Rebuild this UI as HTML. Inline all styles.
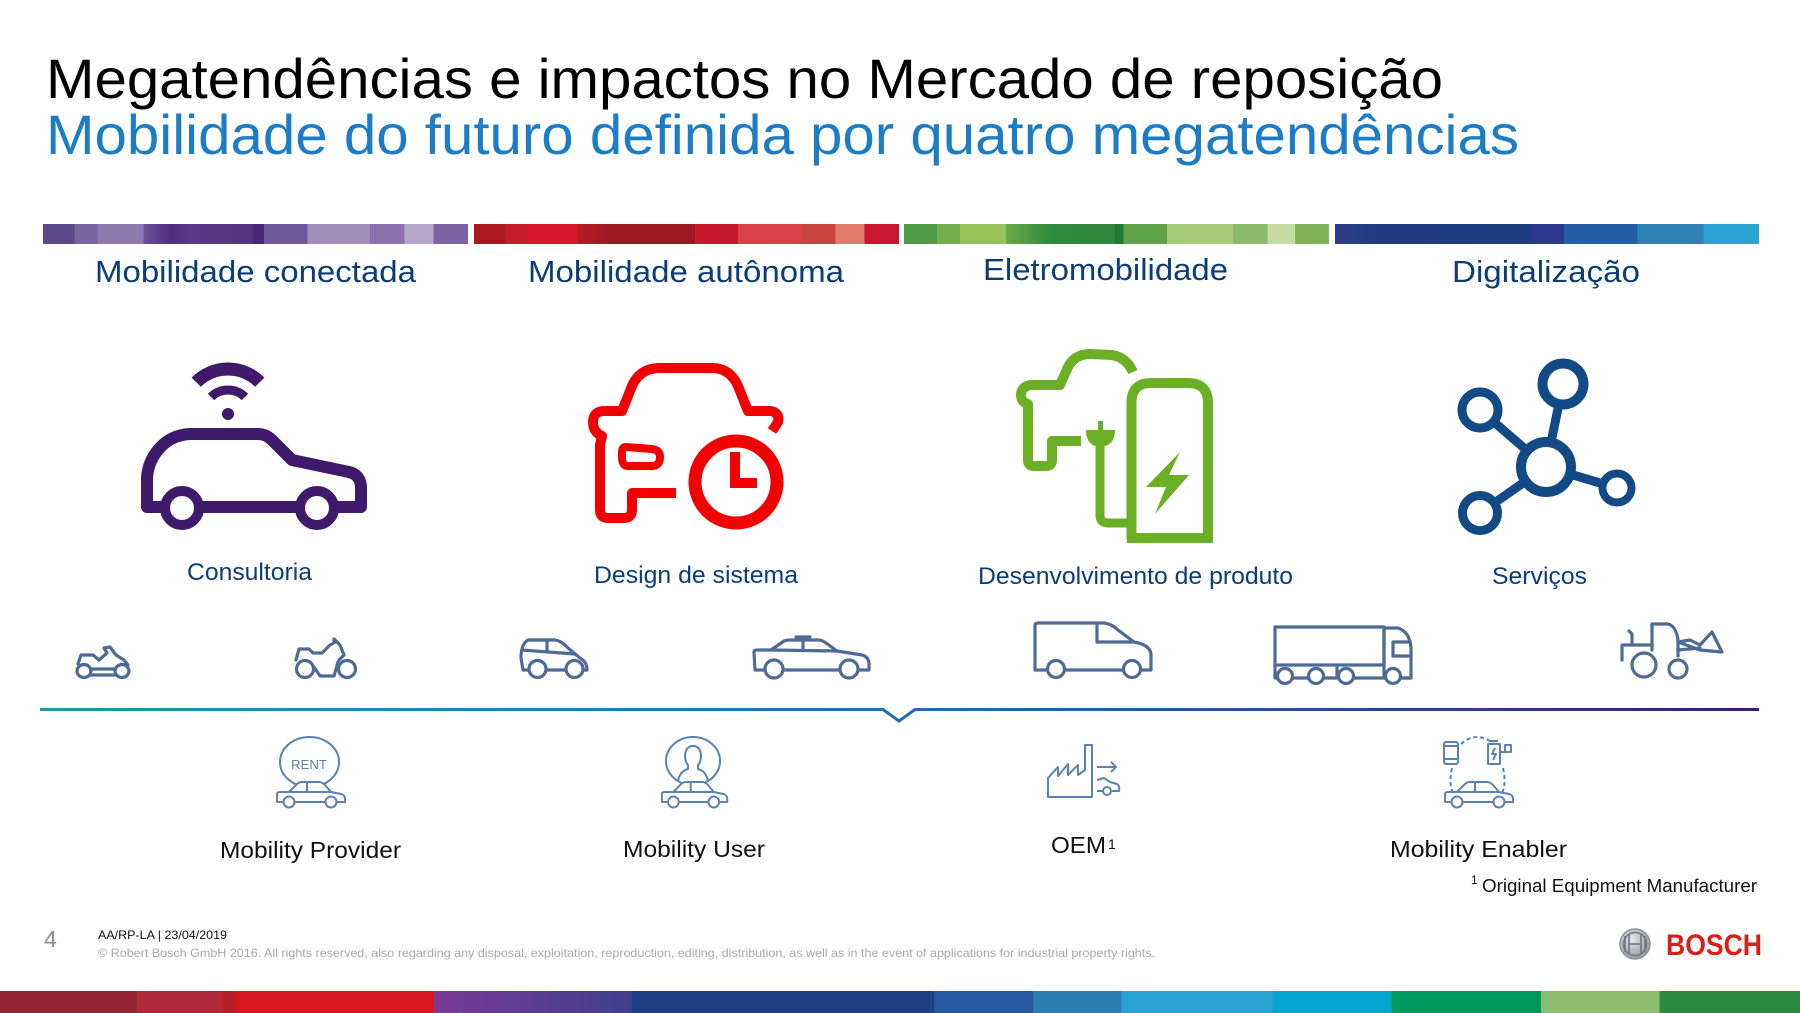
<!DOCTYPE html>
<html>
<head>
<meta charset="utf-8">
<style>
  html,body{margin:0;padding:0;background:#fff;}
  svg{display:block;}
  text{font-family:"Liberation Sans",sans-serif;}
</style>
</head>
<body>
<svg width="1800" height="1013" viewBox="0 0 1800 1013" xmlns="http://www.w3.org/2000/svg">
<defs>
  <linearGradient id="b1" x1="0" x2="1" y1="0" y2="0">
    <stop offset="0" stop-color="#5d4889"/><stop offset="0.074" stop-color="#5d4889"/>
    <stop offset="0.074" stop-color="#7a64a0"/><stop offset="0.128" stop-color="#7a64a0"/>
    <stop offset="0.128" stop-color="#8e79ad"/><stop offset="0.236" stop-color="#8e79ad"/>
    <stop offset="0.236" stop-color="#6c519a"/><stop offset="0.30" stop-color="#4f2e80"/>
    <stop offset="0.345" stop-color="#5a3a86"/><stop offset="0.493" stop-color="#54337e"/>
    <stop offset="0.493" stop-color="#4a2878"/><stop offset="0.52" stop-color="#4a2878"/>
    <stop offset="0.52" stop-color="#6f579b"/><stop offset="0.622" stop-color="#6f579b"/>
    <stop offset="0.622" stop-color="#a18dbb"/><stop offset="0.77" stop-color="#a18dbb"/>
    <stop offset="0.77" stop-color="#8a73ad"/><stop offset="0.851" stop-color="#8a73ad"/>
    <stop offset="0.851" stop-color="#b6a7cf"/><stop offset="0.919" stop-color="#b6a7cf"/>
    <stop offset="0.919" stop-color="#7d64a3"/><stop offset="1" stop-color="#7d64a3"/>
  </linearGradient>
  <linearGradient id="b2" x1="0" x2="1" y1="0" y2="0">
    <stop offset="0" stop-color="#ab1820"/><stop offset="0.073" stop-color="#ab1820"/>
    <stop offset="0.073" stop-color="#c41c29"/><stop offset="0.127" stop-color="#c41c29"/>
    <stop offset="0.127" stop-color="#d6172c"/><stop offset="0.242" stop-color="#d6172c"/>
    <stop offset="0.242" stop-color="#b91a25"/><stop offset="0.32" stop-color="#9e1a21"/>
    <stop offset="0.52" stop-color="#9e1a21"/>
    <stop offset="0.52" stop-color="#c8192c"/><stop offset="0.621" stop-color="#c8192c"/>
    <stop offset="0.621" stop-color="#da4048"/><stop offset="0.77" stop-color="#da4048"/>
    <stop offset="0.77" stop-color="#c9453e"/><stop offset="0.851" stop-color="#c9453e"/>
    <stop offset="0.851" stop-color="#e17a69"/><stop offset="0.919" stop-color="#e17a69"/>
    <stop offset="0.919" stop-color="#c9182f"/><stop offset="1" stop-color="#c9182f"/>
  </linearGradient>
  <linearGradient id="b3" x1="0" x2="1" y1="0" y2="0">
    <stop offset="0" stop-color="#4f9a45"/><stop offset="0.078" stop-color="#4f9a45"/>
    <stop offset="0.078" stop-color="#72ac4b"/><stop offset="0.132" stop-color="#72ac4b"/>
    <stop offset="0.132" stop-color="#97c057"/><stop offset="0.24" stop-color="#97c057"/>
    <stop offset="0.24" stop-color="#6aaa49"/><stop offset="0.349" stop-color="#2f8a3b"/>
    <stop offset="0.496" stop-color="#2f883a"/>
    <stop offset="0.496" stop-color="#1f7a30"/><stop offset="0.517" stop-color="#1f7a30"/>
    <stop offset="0.517" stop-color="#5ea34a"/><stop offset="0.619" stop-color="#5ea34a"/>
    <stop offset="0.619" stop-color="#a8cb79"/><stop offset="0.774" stop-color="#a8cb79"/>
    <stop offset="0.774" stop-color="#8dbb6e"/><stop offset="0.855" stop-color="#8dbb6e"/>
    <stop offset="0.855" stop-color="#c4dca2"/><stop offset="0.92" stop-color="#c4dca2"/>
    <stop offset="0.92" stop-color="#7fb456"/><stop offset="1" stop-color="#7fb456"/>
  </linearGradient>
  <linearGradient id="b4" x1="0" x2="1" y1="0" y2="0">
    <stop offset="0" stop-color="#2d3e8a"/><stop offset="0.097" stop-color="#1f3c82"/>
    <stop offset="0.463" stop-color="#1e3c80"/>
    <stop offset="0.463" stop-color="#2c388a"/><stop offset="0.54" stop-color="#2c388a"/>
    <stop offset="0.54" stop-color="#245fa4"/><stop offset="0.713" stop-color="#245fa4"/>
    <stop offset="0.713" stop-color="#2f80b7"/><stop offset="0.869" stop-color="#2f80b7"/>
    <stop offset="0.869" stop-color="#2aa4d0"/><stop offset="1" stop-color="#2aa4d0"/>
  </linearGradient>
  <linearGradient id="line" gradientUnits="userSpaceOnUse" x1="40" y1="0" x2="1759" y2="0">
    <stop offset="0" stop-color="#1a9ca6"/>
    <stop offset="0.45" stop-color="#1f72b8"/>
    <stop offset="0.6" stop-color="#2060ab"/>
    <stop offset="0.82" stop-color="#2d3f8c"/>
    <stop offset="1" stop-color="#3b1d6c"/>
  </linearGradient>
  <linearGradient id="foot" gradientUnits="userSpaceOnUse" x1="0" y1="0" x2="1800" y2="0">
    <stop offset="0" stop-color="#952235"/><stop offset="0.076" stop-color="#952235"/>
    <stop offset="0.076" stop-color="#b0293a"/><stop offset="0.123" stop-color="#b0293a"/>
    <stop offset="0.123" stop-color="#b61f25"/><stop offset="0.131" stop-color="#b61f25"/>
    <stop offset="0.131" stop-color="#d7181f"/><stop offset="0.241" stop-color="#d7181f"/>
    <stop offset="0.241" stop-color="#7a3a96"/><stop offset="0.351" stop-color="#3f3f8f"/>
    <stop offset="0.351" stop-color="#1e3f85"/><stop offset="0.519" stop-color="#1d3f84"/>
    <stop offset="0.519" stop-color="#2b3a89"/><stop offset="0.519" stop-color="#2b3a89"/>
    <stop offset="0.519" stop-color="#2459a0"/><stop offset="0.574" stop-color="#2459a0"/>
    <stop offset="0.574" stop-color="#2d7db5"/><stop offset="0.623" stop-color="#2d7db5"/>
    <stop offset="0.623" stop-color="#28a3cf"/><stop offset="0.707" stop-color="#28a3cf"/>
    <stop offset="0.707" stop-color="#04a6d0"/><stop offset="0.773" stop-color="#04a6d0"/>
    <stop offset="0.773" stop-color="#009a5f"/><stop offset="0.856" stop-color="#009a5f"/>
    <stop offset="0.856" stop-color="#8cbd6e"/><stop offset="0.922" stop-color="#8cbd6e"/>
    <stop offset="0.922" stop-color="#2a8a3f"/><stop offset="1" stop-color="#2a8a3f"/>
  </linearGradient>
  <radialGradient id="logo" cx="0.4" cy="0.35" r="0.7">
    <stop offset="0" stop-color="#e8eaec"/><stop offset="1" stop-color="#8d949b"/>
  </radialGradient>
</defs>

<rect width="1800" height="1013" fill="#fff"/>

<!-- Titles -->
<text x="46" y="98" font-size="56" fill="#000" textLength="1397" lengthAdjust="spacingAndGlyphs">Megatendências e impactos no Mercado de reposição</text>
<text x="46" y="154" font-size="56" fill="#1c7cc6" textLength="1473" lengthAdjust="spacingAndGlyphs">Mobilidade do futuro definida por quatro megatendências</text>

<!-- Colored bars -->
<rect x="43" y="224" width="425" height="20" fill="url(#b1)"/>
<rect x="474" y="224" width="425" height="20" fill="url(#b2)"/>
<rect x="904" y="224" width="425" height="20" fill="url(#b3)"/>
<rect x="1335" y="224" width="424" height="20" fill="url(#b4)"/>

<!-- Category labels -->
<g fill="#0c3d77" font-size="31" text-anchor="middle">
  <text x="255.5" y="282" textLength="321" lengthAdjust="spacingAndGlyphs">Mobilidade conectada</text>
  <text x="686" y="282" textLength="316" lengthAdjust="spacingAndGlyphs">Mobilidade autônoma</text>
  <text x="1105.5" y="280" textLength="245" lengthAdjust="spacingAndGlyphs">Eletromobilidade</text>
  <text x="1546" y="282" textLength="188" lengthAdjust="spacingAndGlyphs">Digitalização</text>
</g>

<!-- Purple connected car -->
<g stroke="#3f1a6a" fill="none">
  <path d="M 211 397 A 24 24 0 0 1 245 397" stroke-width="9"/>
  <path d="M 196.2 382.2 A 45 45 0 0 1 259.8 382.2" stroke-width="13"/>
  <path d="M 147 507 L 147 478 Q 148 462 158 450 Q 170 435 190 434 L 258 434 Q 266 434 272 440 L 292 460 L 349 472 Q 361 475 361 488 L 361 507 Z" stroke-width="12" stroke-linejoin="round"/>
  <circle cx="182" cy="508" r="17" stroke-width="10" fill="#fff"/>
  <circle cx="317" cy="508" r="17" stroke-width="10" fill="#fff"/>
</g>
<circle cx="228" cy="414" r="6" fill="#3f1a6a"/>

<!-- Red car with clock -->
<g stroke="#f20000" fill="none" stroke-linejoin="round">
  <path d="M 772 431 L 778 422 Q 780 412 770 411 L 748 411 L 738 386 Q 730 368 712 368 L 660 368 Q 640 368 632 386 L 622 411 L 603 411 Q 593 412 593 422 Q 593 432 602 436 L 600 445 L 600 510 Q 600 518 608 518 L 624 518 Q 632 518 632 510 L 632 493 L 676 493" stroke-width="10"/>
  <path d="M 626 447 L 652 449 Q 660 450 660 457 Q 660 466 652 466 L 628 466 Q 622 466 622 457 L 622 452 Q 622 447 626 447 Z" stroke-width="8"/>
  <circle cx="736" cy="482" r="41" stroke-width="13" fill="#fff"/>
  <path d="M 735 452 L 735 483 L 757 483" stroke-width="10" stroke-linejoin="miter"/>
</g>

<!-- Green e-mobility -->
<g stroke="#6bb024" fill="none" stroke-linejoin="round">
  <path d="M 1133 372 Q 1126 357 1112 355 L 1090 354 Q 1075 354 1068 367 L 1060 385 L 1030 385 Q 1021 387 1021 395 Q 1021 402 1028 404 L 1028 460 Q 1028 466 1034 466 L 1046 466 Q 1052 466 1052 460 L 1052 441 L 1081 441" stroke-width="10"/>
  <path d="M 1131.5 538 L 1131.5 403 Q 1131.5 383 1151 383 L 1188 383 Q 1208 383 1208 403 L 1208 538 Z" stroke-width="10"/>
  <path d="M 1100 440 L 1100 515 Q 1100 523 1108 523 L 1127 523" stroke-width="9"/>
</g>
<g fill="#6bb024">
  <rect x="1127" y="533" width="86" height="10"/>
  <path d="M 1086 430 L 1115 430 Q 1115 446 1100 447 Q 1086 446 1086 430 Z"/>
  <rect x="1098" y="421" width="5" height="10"/>
  <path d="M 1180 452 L 1146 487 L 1166 487 L 1155 514 L 1189 475 L 1169 475 Z"/>
</g>

<!-- Network icon -->
<g stroke="#124a86" fill="none">
  <path d="M 1546 467 L 1563 384 M 1546 467 L 1480 410 M 1546 467 L 1480 513 M 1546 467 L 1617 488" stroke-width="9"/>
  <circle cx="1563" cy="384" r="20.5" stroke-width="10" fill="#fff"/>
  <circle cx="1480" cy="410" r="18" stroke-width="9" fill="#fff"/>
  <circle cx="1480" cy="513" r="17.5" stroke-width="9" fill="#fff"/>
  <circle cx="1617" cy="488" r="14.5" stroke-width="8" fill="#fff"/>
  <circle cx="1546" cy="467" r="25" stroke-width="10" fill="#fff"/>
</g>

<!-- Icon labels -->
<g fill="#0c3d77" font-size="24">
  <text x="187" y="580" textLength="125" lengthAdjust="spacingAndGlyphs">Consultoria</text>
  <text x="594" y="583" textLength="204" lengthAdjust="spacingAndGlyphs">Design de sistema</text>
  <text x="978" y="584" textLength="315" lengthAdjust="spacingAndGlyphs">Desenvolvimento de produto</text>
  <text x="1492" y="584" textLength="95" lengthAdjust="spacingAndGlyphs">Serviços</text>
</g>

<!-- Vehicle row -->
<g stroke="#4e6b95" stroke-width="3.2" fill="none" stroke-linejoin="round" stroke-linecap="round">
  <!-- ATV -->
  <path d="M 78 664 L 81 655 L 93 655 L 99 660 L 107 653 L 104 648 L 110 647 L 116 655 L 124 660 L 128 665"/>
  <path d="M 91 669 L 115 669 M 91 675 L 115 675"/>
  <ellipse cx="84" cy="671" rx="7" ry="6.5" fill="#fff"/>
  <ellipse cx="122" cy="671" rx="7" ry="6.5" fill="#fff"/>
  <!-- Motorbike -->
  <path d="M 296 660 L 299 649 L 309 649 L 313 653 L 322 653 L 330 645 L 334 643 L 334 639 L 340 645 L 344 655 L 339 660"/>
  <path d="M 314 667 L 320 676 L 334 676 L 338 662"/>
  <circle cx="305" cy="669" r="8.5" fill="#fff"/>
  <circle cx="347" cy="669" r="8.5" fill="#fff"/>
  <!-- Small car -->
  <path d="M 523 670 L 521 658 Q 521 644 528 640 L 555 640 Q 562 641 568 648 L 580 658 Q 587 662 587 670 Z"/>
  <path d="M 522 650 L 575 654 M 547 640 L 547 652"/>
  <circle cx="537.5" cy="669" r="8.5" fill="#fff"/>
  <circle cx="574.5" cy="669" r="8.5" fill="#fff"/>
  <!-- Sedan -->
  <path d="M 755 670 L 754 652 Q 754 650 757 650 L 771 650 L 784 641 Q 787 640 790 640 L 818 640 Q 822 640 826 643 L 837 651 L 862 655 Q 869 657 869 664 L 869 670 Z"/>
  <path d="M 796 637 L 810 637 M 803 640 L 803 650 M 771 650 L 837 651"/>
  <circle cx="774" cy="669" r="9" fill="#fff"/>
  <circle cx="849" cy="669" r="9" fill="#fff"/>
  <!-- Van -->
  <path d="M 1035 670 L 1035 626 Q 1035 623 1038 623 L 1104 623 Q 1112 624 1118 630 L 1134 642 Q 1151 645 1151 655 L 1151 670 Z"/>
  <path d="M 1097 623 L 1097 642 L 1134 642"/>
  <circle cx="1056" cy="669" r="8.5" fill="#fff"/>
  <circle cx="1132" cy="669" r="8.5" fill="#fff"/>
  <!-- Truck -->
  <rect x="1275" y="627" width="109" height="38"/>
  <path d="M 1384 628 L 1398 628 Q 1410 632 1411 648 L 1411 678 L 1384 678 Z"/>
  <path d="M 1393 642 L 1408 642 M 1393 642 L 1393 656 L 1410 656"/>
  <path d="M 1275 665 L 1275 678 L 1411 678 M 1337 665 L 1337 678"/>
  <circle cx="1285" cy="676" r="7.5" fill="#fff"/>
  <circle cx="1316" cy="676" r="7.5" fill="#fff"/>
  <circle cx="1346" cy="676" r="7.5" fill="#fff"/>
  <circle cx="1393" cy="676" r="7.5" fill="#fff"/>
  <!-- Loader -->
  <path d="M 1652 650 L 1652 624 L 1668 624 Q 1676 626 1678 640 L 1678 656"/>
  <path d="M 1622 660 L 1622 645 L 1652 645 M 1632 645 L 1632 634 L 1629 631"/>
  <path d="M 1678 642 L 1690 640 L 1700 645 L 1712 632 L 1722 652 L 1700 650 Z M 1678 650 L 1700 648"/>
  <circle cx="1644" cy="665" r="12" fill="#fff"/>
  <circle cx="1678" cy="669" r="9" fill="#fff"/>
</g>

<!-- Divider line with notch -->
<path d="M 40 709.5 L 883 709.5 L 899 721 L 915 709.5 L 1759 709.5" stroke="url(#line)" stroke-width="3" fill="none"/>

<!-- Bottom icons -->
<g stroke="#5b82b1" stroke-width="2" fill="none" stroke-linejoin="round">
  <!-- RENT -->
  <ellipse cx="309.5" cy="762" rx="29.5" ry="25"/>
  <g transform="translate(275,780)">
    <path d="M 2 22 L 2 14 Q 2 12 5 12 L 14 12 L 22 4 Q 24 2 27 2 L 44 2 Q 47 2 50 5 L 56 12 L 66 14 Q 70 15 70 19 L 70 22 Z" fill="#fff"/>
    <path d="M 32 2 L 32 12 M 14 12 L 56 12"/>
    <circle cx="14" cy="22" r="5.5" fill="#fff"/><circle cx="56" cy="22" r="5.5" fill="#fff"/>
  </g>
  <!-- User -->
  <ellipse cx="693" cy="761" rx="27" ry="24"/>
  <path d="M 678 781 Q 680 771 688 769 L 688 765 Q 685 762 685 755 Q 686 746 693 746 Q 700 746 701 755 Q 701 762 698 765 L 698 769 Q 706 771 708 781"/>
  <g transform="translate(660,780) scale(0.96,1)">
    <path d="M 2 22 L 2 14 Q 2 12 5 12 L 14 12 L 22 4 Q 24 2 27 2 L 44 2 Q 47 2 50 5 L 56 12 L 66 14 Q 70 15 70 19 L 70 22 Z" fill="#fff"/>
    <path d="M 32 2 L 32 12 M 14 12 L 56 12"/>
    <circle cx="14" cy="22" r="5.5" fill="#fff"/><circle cx="56" cy="22" r="5.5" fill="#fff"/>
  </g>
  <!-- OEM factory -->
  <path d="M 1048 797 L 1048 778 L 1058 767 L 1058 776 L 1068 764 L 1068 775 L 1078 765 L 1078 775 L 1085 770 L 1085 745 L 1092 745 L 1092 797 Z"/>
  <path d="M 1097 767 L 1116 767 M 1111 762 L 1116 767 L 1111 772"/>
  <path d="M 1097 780 L 1104 778 L 1110 782 L 1117 784 Q 1120 786 1119 791 L 1112 791 M 1097 791 L 1103 791"/>
  <circle cx="1107" cy="791" r="4" fill="#fff"/>
  <!-- Enabler -->
  <path d="M 1452 768 Q 1447 790 1458 800 M 1503 768 Q 1508 790 1497 800 M 1461 744 Q 1477 730 1494 744" stroke-dasharray="4 3"/>
  <rect x="1444" y="742" width="14" height="22" rx="2"/>
  <path d="M 1444 746 L 1458 746 M 1444 759 L 1458 759"/>
  <rect x="1488" y="744" width="12" height="20"/>
  <path d="M 1490 741 L 1498 741 M 1495 748 L 1492 754 L 1496 754 L 1493 760"/>
  <path d="M 1500 752 L 1505 752 L 1505 745 L 1511 745 L 1511 752 L 1505 752"/>
  <g transform="translate(1443,780)">
    <path d="M 2 22 L 2 14 Q 2 12 5 12 L 14 12 L 22 4 Q 24 2 27 2 L 44 2 Q 47 2 50 5 L 56 12 L 66 14 Q 70 15 70 19 L 70 22 Z" fill="#fff"/>
    <path d="M 32 2 L 32 12 M 14 12 L 56 12"/>
    <circle cx="14" cy="22" r="5.5" fill="#fff"/><circle cx="56" cy="22" r="5.5" fill="#fff"/>
  </g>
</g>
<text x="291" y="769" font-size="13" fill="#5b82b1" textLength="36" lengthAdjust="spacingAndGlyphs">RENT</text>

<!-- Bottom labels -->
<g fill="#111" font-size="23">
  <text x="220" y="858" textLength="181" lengthAdjust="spacingAndGlyphs">Mobility Provider</text>
  <text x="623" y="857" textLength="142" lengthAdjust="spacingAndGlyphs">Mobility User</text>
  <text x="1051" y="853" textLength="55" lengthAdjust="spacingAndGlyphs">OEM</text>
  <text x="1108" y="849" font-size="14">1</text>
  <text x="1390" y="857" textLength="177" lengthAdjust="spacingAndGlyphs">Mobility Enabler</text>
  <text x="1471" y="884" font-size="12">1</text>
  <text x="1482" y="892" font-size="18" textLength="275" lengthAdjust="spacingAndGlyphs">Original Equipment Manufacturer</text>
</g>

<!-- Footer -->
<text x="44" y="947" font-size="23" fill="#8c8c8c">4</text>
<text x="98" y="939" font-size="12" fill="#111" textLength="129" lengthAdjust="spacingAndGlyphs">AA/RP-LA | 23/04/2019</text>
<text x="98" y="957" font-size="12" fill="#a9a9a9" textLength="1057" lengthAdjust="spacingAndGlyphs">© Robert Bosch GmbH 2016. All rights reserved, also regarding any disposal, exploitation, reproduction, editing, distribution, as well as in the event of applications for industrial property rights.</text>

<!-- Bosch logo -->
<circle cx="1635" cy="944" r="15" fill="url(#logo)" stroke="#8d949b" stroke-width="1.5"/>
<circle cx="1635" cy="944" r="11.5" fill="none" stroke="#6f767d" stroke-width="1.5"/>
<path d="M 1629 934 L 1629 954 M 1641 934 L 1641 954 M 1629 944 L 1641 944 M 1625 936 L 1625 952 M 1645 936 L 1645 952" stroke="#6f767d" stroke-width="1.6" fill="none"/>
<text x="1666" y="955" font-size="30" font-weight="bold" fill="#dc1e16" textLength="96" lengthAdjust="spacingAndGlyphs">BOSCH</text>

<!-- Bottom stripe -->
<rect x="0" y="991" width="1800" height="22" fill="url(#foot)"/>
</svg>
</body>
</html>
